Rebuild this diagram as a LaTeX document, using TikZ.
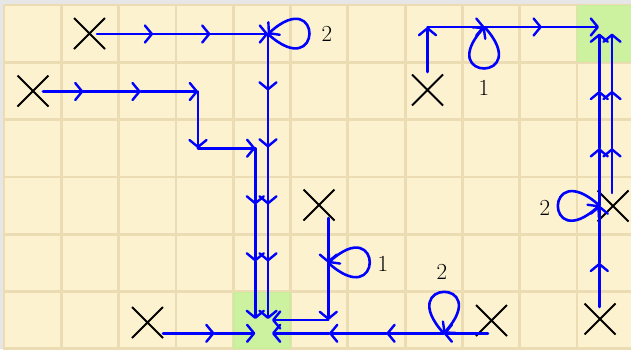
\documentclass[tikz,border=0pt]{standalone}
\usetikzlibrary{arrows.meta,shapes.misc}
\definecolor{cream}{HTML}{FDF2D0}
\definecolor{gridc}{HTML}{EBDCB3}
\definecolor{goal}{RGB}{192,242,149}
\definecolor{margin}{HTML}{E6E6E6}
\definecolor{pathblue}{RGB}{0,0,255}
\begin{document}
\begin{tikzpicture}[x=1pt,y=-1pt,
  gridline/.style={draw=gridc,line width=2.8pt},
  flow/.style={draw=pathblue,line width=2.6pt,line cap=round,-{Straight Barb[length=7pt,width=17pt,round,line width=2.4pt]}},
  cross/.style={cross out,draw=black,line width=1.9pt,minimum size=31pt,inner sep=0pt,outer sep=0pt},
  lbl/.style={font=\fontsize{23}{23}\selectfont,inner sep=0pt}]
\useasboundingbox (0,0) rectangle (631,349);
\clip (0,0) rectangle (631,349);
\fill[margin] (0,0) rectangle (631,349);
\fill[cream] (4,5) rectangle (640,360);
\foreach \k in {0,...,11} \draw[gridline] ({4+57.3*\k},5) -- ({4+57.3*\k},360);
\foreach \k in {0,...,6} \draw[gridline] (4,{5+57.3*\k}) -- (640,{5+57.3*\k});
\fill[goal,fill opacity=0.8] (233.2,291.5) rectangle (290.5,348.8);
\fill[goal,fill opacity=0.8] (577,5) rectangle (634.3,62.3);
% start markers
\node[cross] (x1) at (89.5,33.5) {};
\node[cross] (x2) at (33,91) {};
\node[cross] (x3) at (147.5,322.5) {};
\node[cross] (x4) at (319,205) {};
\node[cross] (x5) at (427.5,90) {};
\node[cross] (x6) at (491.5,320.5) {};
\node[cross] (x7) at (600,319) {};
\node[cross] (x8) at (613,206) {};
% path A
\coordinate (a0) at (97,34);
\coordinate (a1) at (153.1,34);
\coordinate (a2) at (210.4,34);
\coordinate (a3) at (268,34);
\coordinate (a4) at (268,90.5);
\coordinate (a5) at (268,147.5);
\coordinate (a6) at (268,204.5);
\coordinate (a7) at (268,261.5);
\coordinate (a8) at (268,319);
% path B
\coordinate (b0) at (43,91.5);
\coordinate (b1) at (83.4,91.5);
\coordinate (b2) at (140.7,91.5);
\coordinate (b3) at (198,91.5);
\coordinate (b4) at (198,148.2);
\coordinate (b5) at (255.3,148.2);
\coordinate (b6) at (255.3,204.5);
\coordinate (b7) at (255.3,261.5);
\coordinate (b8) at (255.3,319);
% path C
\coordinate (c0) at (163,333.3);
\coordinate (c1) at (214.5,333.3);
\coordinate (c2) at (255.3,333.3);
% path D
\coordinate (d0) at (488,333.3);
\coordinate (d1) at (443.7,333.3);
\coordinate (d2) at (386.4,333.3);
\coordinate (d3) at (329.1,333.3);
\coordinate (d4) at (272,333.3);
% path E
\coordinate (e0) at (328.3,218);
\coordinate (e1) at (328.3,262.8);
\coordinate (e2) at (328.3,320);
\coordinate (e3) at (272,320);
% path F
\coordinate (f0) at (427.5,72);
\coordinate (f1) at (427.5,27);
\coordinate (f2) at (484.5,27);
\coordinate (f3) at (541.8,27);
\coordinate (f4) at (599,27);
% path G1
\coordinate (g0) at (599.3,307);
\coordinate (g1) at (599.3,262.8);
\coordinate (g2) at (599.3,205.5);
\coordinate (g3) at (599.3,148.2);
\coordinate (g4) at (599.3,90.9);
\coordinate (g5) at (599.3,33.6);
% path G2
\coordinate (h0) at (612,193);
\coordinate (h1) at (612,148.2);
\coordinate (h2) at (612,90.9);
\coordinate (h3) at (612,33.6);
\foreach \p/\q in {a0/a1,a1/a2,a2/a3,a3/a4,a4/a5,a5/a6,a6/a7,a7/a8,
  b0/b1,b1/b2,b2/b3,b3/b4,b4/b5,b5/b6,b6/b7,b7/b8,
  c0/c1,c1/c2,
  d0/d1,d1/d2,d2/d3,d3/d4,
  e0/e1,e1/e2,e2/e3,
  f0/f1,f1/f2,f2/f3,f3/f4,
  g0/g1,g1/g2,g2/g3,g3/g4,g4/g5,
  h0/h1,h1/h2,h2/h3}
  \draw[flow] (\p) -- (\q);
% waiting loops
\draw[flow] (a3) .. controls +(55,50) and +(55,-50) .. (a3);
\draw[flow] (e1) .. controls +(55,50) and +(55,-50) .. (e1);
\draw[flow] (d1) .. controls +(-50,-55) and +(50,-55) .. (d1);
\draw[flow] (f2) .. controls +(50,55) and +(-50,55) .. (f2);
\draw[flow] (g2) .. controls +(-55,-50) and +(-55,50) .. (g2);
\node[lbl] (la) at (327,34) {2};
\node[lbl] (le) at (383,264) {1};
\node[lbl] (ld) at (442,272) {2};
\node[lbl] (lf) at (484,88) {1};
\node[lbl] (lg) at (545,208) {2};
\end{tikzpicture}
\end{document}
